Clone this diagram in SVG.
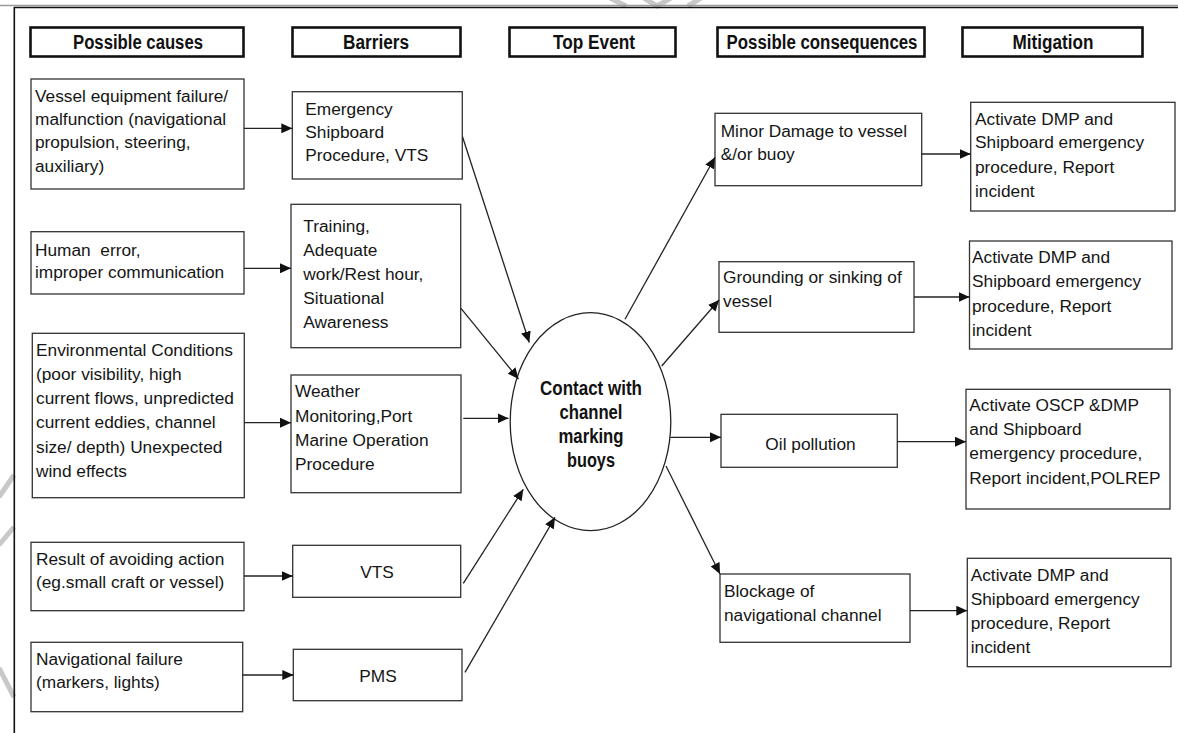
<svg xmlns="http://www.w3.org/2000/svg" width="1178" height="733" viewBox="0 0 1178 733">
  <defs>
    <marker id="ah" markerUnits="userSpaceOnUse" markerWidth="11" markerHeight="10" refX="11" refY="5" orient="auto">
      <path d="M0,0 L11,5 L0,10 z" fill="#111"/>
    </marker>
    <style>
      .box { fill: #fff; stroke: #333; stroke-width: 1.3; }
      .hbox { fill: #fff; stroke: #111; stroke-width: 2.6; }
      .t { font-family: "Liberation Sans", Arial, sans-serif; font-size: 17.3px; fill: #151515; white-space: pre; }
      .h { font-family: "Liberation Sans", Arial, sans-serif; font-size: 20px; font-weight: bold; fill: #111; text-anchor: middle; }
      .mid { text-anchor: middle; }
      .c { stroke: #222; stroke-width: 1.3; fill: none; marker-end: url(#ah); }
      .wm { stroke: #c8c8c8; stroke-width: 5; fill: none; }
    </style>
  </defs>

  <rect width="1178" height="733" fill="#fff"/>

  <!-- faint background marks -->
  <g id="background-marks">
    <line class="wm" x1="610" y1="-2" x2="626" y2="6"/>
    <polyline class="wm" points="644,-2 657,6 671,-2"/>
    <line class="wm" x1="701" y1="-2" x2="688" y2="6"/>
    <line class="wm" x1="-1" y1="497" x2="14" y2="475"/>
    <line class="wm" x1="-1" y1="545" x2="14" y2="527"/>
    <line class="wm" x1="-1" y1="668" x2="14" y2="697"/>
  </g>

  <!-- page frame -->
  <g id="frame">
    <line x1="0" y1="5.5" x2="1178" y2="5.5" stroke="#9a9a9a" stroke-width="1.5"/>
    <line x1="14" y1="7.5" x2="1178" y2="7.5" stroke="#111" stroke-width="1.5"/>
    <line x1="14.3" y1="7" x2="14.3" y2="733" stroke="#111" stroke-width="1.6"/>
  </g>

  <!-- column headers -->
  <g id="header-causes">
    <rect class="hbox" x="30.5" y="27.5" width="213" height="29"/>
    <text class="h" x="138" y="49" textLength="130" lengthAdjust="spacingAndGlyphs">Possible causes</text>
  </g>
  <g id="header-barriers">
    <rect class="hbox" x="292.5" y="27.5" width="168" height="29"/>
    <text class="h" x="376" y="49" textLength="66" lengthAdjust="spacingAndGlyphs">Barriers</text>
  </g>
  <g id="header-top-event">
    <rect class="hbox" x="509.5" y="27.5" width="166" height="29"/>
    <text class="h" x="594" y="49" textLength="82" lengthAdjust="spacingAndGlyphs">Top Event</text>
  </g>
  <g id="header-consequences">
    <rect class="hbox" x="717.5" y="27.5" width="207" height="29"/>
    <text class="h" x="822" y="49" textLength="191" lengthAdjust="spacingAndGlyphs">Possible consequences</text>
  </g>
  <g id="header-mitigation">
    <rect class="hbox" x="962.5" y="27.5" width="180" height="29"/>
    <text class="h" x="1053" y="49" textLength="81" lengthAdjust="spacingAndGlyphs">Mitigation</text>
  </g>

  <!-- causes -->
  <g id="cause-equipment">
    <rect class="box" x="31" y="79" width="213" height="110"/>
    <text class="t" x="35" y="101.7">Vessel equipment failure/</text>
    <text class="t" x="35" y="125">malfunction (navigational</text>
    <text class="t" x="35" y="148.3">propulsion, steering,</text>
    <text class="t" x="35" y="171.7">auxiliary)</text>
  </g>
  <g id="cause-human">
    <rect class="box" x="31" y="231.7" width="213" height="62.3"/>
    <text class="t" x="35" y="256">Human  error,</text>
    <text class="t" x="35" y="278.3">improper communication</text>
  </g>
  <g id="cause-environment">
    <rect class="box" x="32.3" y="333.3" width="212" height="164.4"/>
    <text class="t" x="36" y="356">Environmental Conditions</text>
    <text class="t" x="36" y="380">(poor visibility, high</text>
    <text class="t" x="36" y="404">current flows, unpredicted</text>
    <text class="t" x="36" y="428.3">current eddies, channel</text>
    <text class="t" x="36" y="452.7">size/ depth) Unexpected</text>
    <text class="t" x="36" y="476.7">wind effects</text>
  </g>
  <g id="cause-avoiding">
    <rect class="box" x="31" y="542.3" width="213" height="68.4"/>
    <text class="t" x="36" y="565">Result of avoiding action</text>
    <text class="t" x="36" y="588.3">(eg.small craft or vessel)</text>
  </g>
  <g id="cause-navigation">
    <rect class="box" x="31" y="642.3" width="211.7" height="69.4"/>
    <text class="t" x="36" y="665">Navigational failure</text>
    <text class="t" x="36" y="688.3">(markers, lights)</text>
  </g>

  <!-- barriers -->
  <g id="barrier-emergency">
    <rect class="box" x="292.3" y="91.7" width="170" height="87.3"/>
    <text class="t" x="305.3" y="115">Emergency</text>
    <text class="t" x="305.3" y="138.3">Shipboard</text>
    <text class="t" x="305.3" y="160.7">Procedure, VTS</text>
  </g>
  <g id="barrier-training">
    <rect class="box" x="291" y="204.3" width="169.7" height="143.4"/>
    <text class="t" x="303.3" y="232.3">Training,</text>
    <text class="t" x="303.3" y="255.5">Adequate</text>
    <text class="t" x="303.3" y="280">work/Rest hour,</text>
    <text class="t" x="303.3" y="304">Situational</text>
    <text class="t" x="303.3" y="328.3">Awareness</text>
  </g>
  <g id="barrier-weather">
    <rect class="box" x="291" y="375" width="170" height="117.7"/>
    <text class="t" x="295" y="397.3">Weather</text>
    <text class="t" x="295" y="421.7">Monitoring,Port</text>
    <text class="t" x="295" y="446">Marine Operation</text>
    <text class="t" x="295" y="470">Procedure</text>
  </g>
  <g id="barrier-vts">
    <rect class="box" x="292.7" y="545.3" width="168" height="52"/>
    <text class="t mid" x="377" y="578">VTS</text>
  </g>
  <g id="barrier-pms">
    <rect class="box" x="293.3" y="649.3" width="168.7" height="51.4"/>
    <text class="t mid" x="378" y="682">PMS</text>
  </g>

  <!-- top event -->
  <g id="top-event">
    <ellipse cx="590.5" cy="421.7" rx="80.3" ry="109" fill="#fff" stroke="#222" stroke-width="1.3"/>
    <text class="h" x="591" y="395" textLength="102" lengthAdjust="spacingAndGlyphs">Contact with</text>
    <text class="h" x="591" y="419.3" textLength="63" lengthAdjust="spacingAndGlyphs">channel</text>
    <text class="h" x="591" y="443.3" textLength="65" lengthAdjust="spacingAndGlyphs">marking</text>
    <text class="h" x="591" y="467.3" textLength="48" lengthAdjust="spacingAndGlyphs">buoys</text>
  </g>

  <!-- consequences -->
  <g id="consequence-damage">
    <rect class="box" x="715" y="113.3" width="206.7" height="72.4"/>
    <text class="t" x="720.7" y="136.7">Minor Damage to vessel</text>
    <text class="t" x="720.7" y="160">&amp;/or buoy</text>
  </g>
  <g id="consequence-grounding">
    <rect class="box" x="719" y="261.7" width="195" height="70.6"/>
    <text class="t" x="723" y="283.3">Grounding or sinking of</text>
    <text class="t" x="723" y="306.7">vessel</text>
  </g>
  <g id="consequence-oil">
    <rect class="box" x="721" y="414.3" width="176.3" height="53"/>
    <text class="t mid" x="810.5" y="450">Oil pollution</text>
  </g>
  <g id="consequence-blockage">
    <rect class="box" x="720" y="574" width="190" height="68.3"/>
    <text class="t" x="724" y="596.7">Blockage of</text>
    <text class="t" x="724" y="620.7">navigational channel</text>
  </g>

  <!-- mitigation -->
  <g id="mitigation-damage">
    <rect class="box" x="970.7" y="102.3" width="204.3" height="108.7"/>
    <text class="t" x="975" y="125">Activate DMP and</text>
    <text class="t" x="975" y="148.3">Shipboard emergency</text>
    <text class="t" x="975" y="172.7">procedure, Report</text>
    <text class="t" x="975" y="196.7">incident</text>
  </g>
  <g id="mitigation-grounding">
    <rect class="box" x="969.5" y="241" width="202.5" height="108"/>
    <text class="t" x="972" y="263">Activate DMP and</text>
    <text class="t" x="972" y="287">Shipboard emergency</text>
    <text class="t" x="972" y="311.5">procedure, Report</text>
    <text class="t" x="972" y="336">incident</text>
  </g>
  <g id="mitigation-oil">
    <rect class="box" x="966" y="389.3" width="204" height="119.7"/>
    <text class="t" x="969.3" y="411">Activate OSCP &amp;DMP</text>
    <text class="t" x="969.3" y="435">and Shipboard</text>
    <text class="t" x="969.3" y="459.3">emergency procedure,</text>
    <text class="t" x="969.3" y="484">Report incident,POLREP</text>
  </g>
  <g id="mitigation-blockage">
    <rect class="box" x="967.3" y="558.3" width="203.7" height="108.4"/>
    <text class="t" x="970.7" y="580.7">Activate DMP and</text>
    <text class="t" x="970.7" y="605">Shipboard emergency</text>
    <text class="t" x="970.7" y="629.3">procedure, Report</text>
    <text class="t" x="970.7" y="653.3">incident</text>
  </g>

  <!-- connectors -->
  <g id="connectors">
    <line class="c" x1="244" y1="128.3" x2="292.3" y2="128.3"/>
    <line class="c" x1="244" y1="268.3" x2="291" y2="268.3"/>
    <line class="c" x1="244.3" y1="422.7" x2="291" y2="422.7"/>
    <line class="c" x1="244" y1="576" x2="292.7" y2="576"/>
    <line class="c" x1="242.7" y1="675" x2="293.3" y2="675"/>

    <line class="c" x1="462.5" y1="136.7" x2="529.3" y2="342.5"/>
    <line class="c" x1="461" y1="308.3" x2="518.5" y2="379"/>
    <line class="c" x1="463.3" y1="418.3" x2="508.5" y2="418.3"/>
    <line class="c" x1="463.3" y1="583.3" x2="523.3" y2="489.3"/>
    <line class="c" x1="465" y1="672.3" x2="555" y2="517.3"/>

    <line class="c" x1="625" y1="319.3" x2="715" y2="157.3"/>
    <line class="c" x1="661.7" y1="366" x2="719" y2="300"/>
    <line class="c" x1="670.5" y1="437.3" x2="721" y2="437.3"/>
    <line class="c" x1="666" y1="466" x2="720" y2="574"/>

    <line class="c" x1="921.7" y1="154" x2="970.7" y2="154"/>
    <line class="c" x1="914" y1="297" x2="969.5" y2="297"/>
    <line class="c" x1="897.3" y1="441.7" x2="966" y2="441.7"/>
    <line class="c" x1="910" y1="610.7" x2="967.3" y2="610.7"/>
  </g>
</svg>
